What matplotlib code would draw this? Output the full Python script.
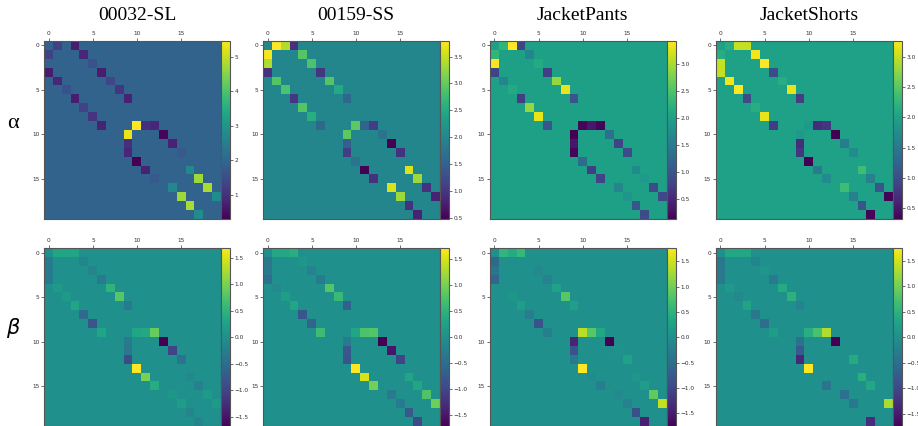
import numpy as np
import matplotlib
matplotlib.use("Agg")
import matplotlib.pyplot as plt

# ---- data ----
titles = ["00032-SL", "00159-SS", "JacketPants", "JacketShorts"]
row_labels = ["α", r"$\beta$"]

parents = [0, 0, 0, 1, 2, 3, 4, 5, 6, 9, 9, 9, 10, 11, 12, 14, 15, 16, 17]
children = [1, 2, 3, 4, 5, 6, 7, 8, 9, 10, 11, 12, 13, 14, 15, 16, 17, 18, 19]
n_joints = 20

alpha_bg = [1.95, 2.0, 2.0, 2.0]
beta_bg = [0.0, 0.0, 0.0, 0.0]

# values at (parent, child) and (child, parent)
a1_up = [1.3, 1.95, 0.7, 0.9, 1.6, 0.7, 1.4, 1.1, 0.8, 5.45, 1.0, 0.9, 0.4, 0.8, 1.75, 2.7, 4.7, 4.8, 2.8]
a1_lo = [1.3, 1.95, 0.7, 0.9, 1.6, 0.7, 1.35, 1.1, 0.8, 5.3, 1.0, 0.9, 0.31, 0.8, 1.75, 2.7, 4.7, 4.8, 2.8]
a2_up = [3.79, 3.4, 0.95, 2.9, 2.85, 1.0, 2.9, 2.5, 1.6, 2.95, 1.55, 1.1, 1.75, 0.48, 0.95, 3.6, 3.3, 0.95, 0.8]
a2_lo = [3.75, 3.4, 0.95, 2.9, 2.85, 1.0, 2.9, 2.55, 1.6, 2.95, 1.5, 1.1, 1.75, 0.5, 0.95, 3.6, 3.3, 0.95, 0.8]
a3_up = [2.3, 3.42, 0.8, 1.65, 2.15, 0.75, 2.9, 3.3, 1.0, 0.2, 0.35, 0.2, 1.35, 0.8, 0.9, 1.7, 1.9, 0.9, 0.85]
a3_lo = [2.3, 3.4, 0.8, 1.65, 2.15, 0.75, 2.9, 3.3, 1.0, 0.14, 0.35, 0.2, 1.3, 0.75, 0.8, 1.65, 1.85, 1.0, 0.9]
a4_up = [2.15, 3.0, 3.0, 3.2, 3.25, 1.0, 2.15, 3.15, 0.85, 1.9, 0.7, 0.8, 0.32, 1.55, 1.75, 2.35, 1.6, 1.1, 0.35]
a4_lo = [2.15, 3.0, 3.0, 3.2, 3.26, 1.0, 2.15, 3.15, 0.85, 1.9, 0.7, 0.8, 0.32, 1.55, 1.75, 2.35, 1.6, 1.1, 0.35]

b1_up = [0.3, 0.3, 0.3, -0.15, -0.15, -0.3, 0.5, 0.8, -0.3, 0.3, 0.35, 0.9, -1.68, -1.0, -0.4, -0.1, -0.2, 0.15, 0.15]
b1_lo = [-0.3, -0.3, -0.3, 0.15, 0.15, 0.3, -0.5, -0.8, 0.3, -0.3, -0.35, -0.9, 1.68, 1.0, 0.4, 0.1, 0.2, -0.15, -0.15]
b2_up = [0.35, 0.35, 0.45, 0.1, -0.2, -0.3, 0.8, 0.6, -0.65, 0.3, 0.75, 0.8, -1.71, -1.5, -1.0, 0.3, 0.3, 0.75, 0.95]
b2_lo = [-0.35, -0.35, -0.45, -0.1, 0.2, 0.3, -0.8, -0.6, 0.65, -0.3, -0.75, -0.8, 1.71, 1.5, 1.0, -0.3, -0.3, -0.75, -0.95]
b3_up = [0.55, 0.4, 0.6, 0.0, -0.1, -0.2, 0.25, 0.85, 0.25, 1.4, 0.85, 0.35, -1.76, 0.05, 0.25, 0.1, 0.2, 0.9, 1.45]
b3_lo = [-0.55, -0.4, -0.6, 0.0, 0.1, 0.2, -0.25, -0.85, -0.25, -1.4, -0.85, -0.35, 1.76, -0.05, -0.25, -0.1, -0.2, -0.9, -1.45]
b4_up = [0.35, 0.35, 0.35, -0.15, 0.1, -0.3, 0.4, 0.5, -0.2, 0.45, 0.75, 1.35, -1.75, 0.0, 0.4, 0.45, 0.35, 0.0, 1.3]
b4_lo = [-0.35, -0.35, -0.35, 0.15, -0.1, 0.3, -0.35, -0.5, 0.2, -0.45, -0.75, -1.35, 1.75, 0.0, -0.4, -0.45, -0.35, 0.0, -1.3]

alpha_up = [a1_up, a2_up, a3_up, a4_up]
alpha_lo = [a1_lo, a2_lo, a3_lo, a4_lo]
beta_up = [b1_up, b2_up, b3_up, b4_up]
beta_lo = [b1_lo, b2_lo, b3_lo, b4_lo]


def build(bg, up, lo):
    m = np.full((n_joints, n_joints), bg, dtype=float)
    for p, c, u, l in zip(parents, children, up, lo):
        m[p, c] = u
        m[c, p] = l
    return m


W, H = 918, 426
fig = plt.figure(figsize=(W / 100, H / 100), dpi=100)

lefts = [44.3, 263.3, 490.0, 716.0]
tops = [41.0, 248.3]
hm_w, hm_h = 177.0, 178.0
cb_w = 8.7

for r in range(2):
    for c in range(4):
        if r == 0:
            mat = build(alpha_bg[c], alpha_up[c], alpha_lo[c])
        else:
            mat = build(beta_bg[c], beta_up[c], beta_lo[c])
        x0 = lefts[c]
        y0 = tops[r]
        ax = fig.add_axes([x0 / W, 1 - (y0 + hm_h) / H, hm_w / W, hm_h / H])
        im = ax.imshow(mat, cmap="viridis", aspect="auto", interpolation="nearest")
        ax.xaxis.tick_top()
        ax.set_xticks([0, 5, 10, 15])
        ax.set_yticks([0, 5, 10, 15])
        ax.tick_params(labelsize=4.2, length=2, width=0.5, pad=1.5, colors="#333333")
        for s in ax.spines.values():
            s.set_linewidth(0.8)
            s.set_color("#555555")
        cax = fig.add_axes([(x0 + hm_w) / W, 1 - (y0 + hm_h) / H, cb_w / W, hm_h / H])
        cb = fig.colorbar(im, cax=cax)
        cb.ax.tick_params(labelsize=4.2, length=2, width=0.5, pad=1.5, colors="#333333")
        cb.outline.set_linewidth(0.8)
        cb.outline.set_edgecolor("#555555")
        if r == 0:
            cx = (x0 + x0 + hm_w + cb_w) / 2
            fig.text(cx / W, 1 - 15 / H, titles[c], ha="center", va="center",
                     fontsize=14, family="Liberation Serif")

fig.text(13 / W, 1 - 123 / H, row_labels[0], ha="center", va="center",
         fontsize=16, family="Liberation Serif")
fig.text(13 / W, 1 - 328 / H, row_labels[1], ha="center", va="center", fontsize=15)

fig.savefig("out.png", dpi=100)
